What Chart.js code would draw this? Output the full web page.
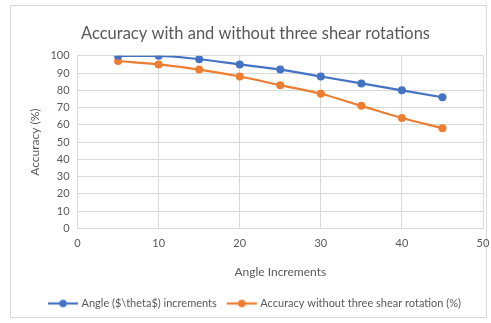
<!DOCTYPE html>
<html lang="en">
<head>
  <meta charset="utf-8">
  <title>Accuracy with and without three shear rotations</title>
  <script src="https://cdn.jsdelivr.net/npm/chart.js"></script>
  <style>
    html, body { margin: 0; padding: 0; background: #fff; }
    #wrap { position: relative; width: 491px; height: 323px; }
  </style>
</head>
<body>
  <div id="wrap"><canvas id="chart" width="491" height="323"></canvas></div>
  <script>
    // values
    var angles = [5, 10, 15, 20, 25, 30, 35, 40, 45];
    var withShear = [100, 100, 98, 95, 92, 88, 84, 80, 76];
    var withoutShear = [97, 95, 92, 88, 83, 78, 71, 64, 58];
    var seriesNames = ['Angle ($\\theta$) increments', 'Accuracy without three shear rotation (%)'];
    var colors = ['#4472c4', '#ed7d31'];

    var fontFamily = 'Lato, "Open Sans", sans-serif';
    var textColor = '#595959';
    var gridColor = '#d9d9d9';

    // little line-with-dot marker for the legend, like the spreadsheet one
    function legendMarker(color) {
      var c = document.createElement('canvas');
      c.width = 36; c.height = 10;
      var g = c.getContext('2d');
      g.strokeStyle = color;
      g.lineWidth = 2.2;
      g.beginPath(); g.moveTo(3, 5); g.lineTo(33, 5); g.stroke();
      g.fillStyle = color;
      g.beginPath(); g.arc(18, 5, 3.8, 0, Math.PI * 2); g.fill();
      return c;
    }

    function toPoints(ys) {
      return angles.map(function(a, i) { return { x: a, y: ys[i] }; });
    }

    var frame = {
      id: 'frame',
      beforeDraw: function(chart) {
        var ctx = chart.ctx;
        ctx.save();
        ctx.fillStyle = '#fff';
        ctx.fillRect(0, 0, chart.width, chart.height);
        ctx.strokeStyle = gridColor;
        ctx.lineWidth = 1;
        ctx.strokeRect(10.5, 5.5, 476, 312);
        ctx.restore();
      }
    };

    function dataset(label, ys, color) {
      return {
        label: label,
        data: toPoints(ys),
        borderColor: color,
        backgroundColor: color,
        borderWidth: 2.2,
        pointRadius: 4,
        pointBorderWidth: 0,
        pointStyle: 'circle',
        cubicInterpolationMode: 'monotone',
        fill: false
      };
    }

    new Chart(document.getElementById('chart').getContext('2d'), {
      type: 'line',
      plugins: [frame],
      data: {
        datasets: [
          dataset(seriesNames[0], withShear, colors[0]),
          dataset(seriesNames[1], withoutShear, colors[1])
        ]
      },
      options: {
        responsive: false,
        animation: false,
        layout: { padding: { left: 28, right: 8, top: 24, bottom: 4 } },
        plugins: {
          title: {
            display: true,
            text: 'Accuracy with and without three shear rotations',
            color: textColor,
            font: { family: fontFamily, size: 16.5, weight: 'normal' },
            padding: { top: 0, bottom: 12 }
          },
          legend: {
            position: 'bottom',
            labels: {
              color: textColor,
              font: { family: fontFamily, size: 11 },
              usePointStyle: true,
              pointStyleWidth: 26,
              boxHeight: 10,
              padding: 12,
              generateLabels: function(chart) {
                return chart.data.datasets.map(function(ds, i) {
                  return {
                    text: ds.label,
                    fontColor: textColor,
                    pointStyle: legendMarker(colors[i]),
                    datasetIndex: i,
                    hidden: false,
                    lineWidth: 0,
                    strokeStyle: 'transparent',
                    fillStyle: colors[i]
                  };
                });
              }
            }
          },
          tooltip: { enabled: false }
        },
        scales: {
          x: {
            type: 'linear',
            min: 0,
            max: 50,
            afterFit: function(s) { s.paddingRight = 0; },
            ticks: { stepSize: 10, color: textColor, font: { family: fontFamily, size: 11 }, padding: 8 },
            grid: { color: gridColor, drawTicks: false },
            border: { color: gridColor },
            title: {
              display: true,
              text: 'Angle Increments',
              color: textColor,
              font: { family: fontFamily, size: 12 },
              padding: { top: 7, bottom: 7 }
            }
          },
          y: {
            min: 0,
            max: 100,
            ticks: { stepSize: 10, color: textColor, font: { family: fontFamily, size: 11 }, padding: 8 },
            grid: { color: gridColor, drawTicks: false },
            border: { color: gridColor },
            title: {
              display: true,
              text: 'Accuracy (%)',
              color: textColor,
              font: { family: fontFamily, size: 12 },
              padding: { top: 0, bottom: 0 }
            }
          }
        }
      }
    });
  </script>
</body>
</html>
